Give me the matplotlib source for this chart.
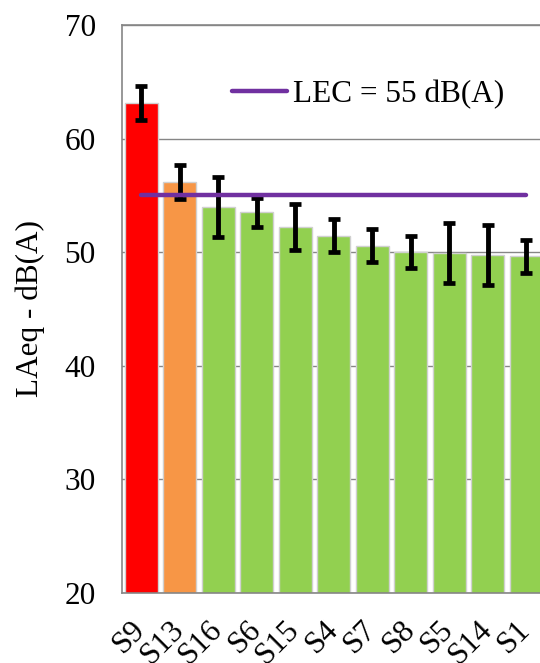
import matplotlib
matplotlib.use("Agg")
import matplotlib.pyplot as plt
import numpy as np

sites = ["S9", "S13", "S16", "S6", "S15", "S4", "S7", "S8", "S5", "S14", "S1"]
laeq = [63.1, 56.2, 54.0, 53.5, 52.2, 51.45, 50.55, 50.0, 49.9, 49.75, 49.65]
err = [1.5, 1.5, 2.65, 1.3, 2.0, 1.45, 1.45, 1.4, 2.65, 2.6, 1.45]
bar_colors = ["#FF0000", "#F79646"] + ["#92D050"] * 9
lec_level = 55

plt.rcParams["font.family"] = ["Liberation Serif", "DejaVu Serif"]
fs = 22.5

fig = plt.figure(figsize=(5.4, 6.63), dpi=100)
ax = fig.add_axes([0.226, 0.1056, 0.784, 0.8567])

x = np.arange(len(sites))
ax.bar(x, laeq, width=0.865, color=bar_colors, edgecolor="#D0D0D0",
       linewidth=1.0, zorder=2)
ax.errorbar(x, laeq, yerr=err, fmt="none", ecolor="black", elinewidth=3.5,
            capsize=4.6, capthick=3.4, zorder=3)
ax.plot([x[0], x[-1]], [lec_level, lec_level], color="#7030A0", lw=3.2,
        solid_capstyle="round", zorder=4, label=f"LEC = {lec_level} dB(A)")

ax.set_xlim(-0.5, len(sites) - 0.5)
ax.set_ylim(20, 70)
ax.set_yticks(np.arange(20, 71, 10))
ax.yaxis.grid(True, color="#868686", lw=1.0, zorder=0)
ax.set_axisbelow(True)
ax.tick_params(axis="both", length=0, labelsize=fs)
ax.tick_params(axis="y", pad=19)
ax.set_xticks(x)
ax.set_xticklabels(sites, rotation=45, ha="right", va="center",
                   rotation_mode="anchor")
ax.tick_params(axis="x", pad=23)
for spine in ax.spines.values():
    spine.set_color("#868686")
    spine.set_linewidth(1.2)
ax.set_ylabel("LAeq - dB(A)", fontsize=fs, labelpad=14)

ax.legend(loc="center left", bbox_to_anchor=(0.4296, 0.858),
          bbox_transform=fig.transFigure, frameon=False, fontsize=fs,
          handlelength=1.75, handletextpad=0.2, borderpad=0, borderaxespad=0)

fig.savefig("out.png", dpi=100)
